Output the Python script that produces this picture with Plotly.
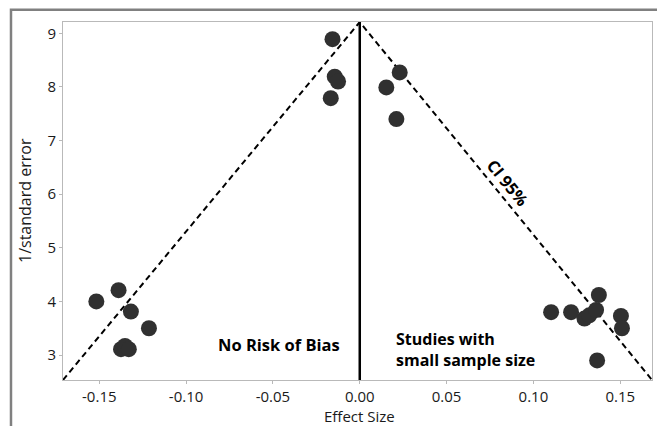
import plotly.graph_objects as go

# Studies (effect size vs 1/standard error)
effect_low = [-0.1517, -0.1389, -0.1318, -0.1214, -0.1375, -0.1352, -0.1330]
inv_se_low = [4.00, 4.21, 3.81, 3.50, 3.11, 3.17, 3.11]

effect_top = [-0.0157, -0.0144, -0.0125, -0.0167, 0.0230, 0.0153, 0.0211]
inv_se_top = [8.89, 8.19, 8.10, 7.79, 8.27, 7.99, 7.40]

effect_high = [0.1102, 0.1217, 0.1294, 0.1322, 0.1361, 0.1377, 0.1504, 0.1510, 0.1367]
inv_se_high = [3.80, 3.80, 3.68, 3.74, 3.84, 4.12, 3.73, 3.50, 2.90]

x_range = [-0.1709, 0.1683]
y_range = [2.535, 9.21]

# 95% CI funnel (apex at pooled effect 0.00)
ci_x = [x_range[0], 0.0, x_range[1]]
ci_y = [y_range[0], y_range[1], y_range[0]]

x_ticks = [-0.15, -0.10, -0.05, 0.00, 0.05, 0.10, 0.15]
x_tick_labels = ["-0.15", "-0.10", "-0.05", "0.00", "0.05", "0.10", "0.15"]
y_ticks = [3, 4, 5, 6, 7, 8, 9]

FONT = "Open Sans"
TXT = "#1a1a1a"

fig = go.Figure()

fig.add_trace(go.Scatter(x=ci_x, y=ci_y, mode="lines",
                         line=dict(color="black", width=2, dash="6px,4px"),
                         hoverinfo="skip", showlegend=False))
fig.add_trace(go.Scatter(x=[0.0, 0.0], y=y_range, mode="lines",
                         line=dict(color="black", width=2.5),
                         hoverinfo="skip", showlegend=False))

all_x = effect_low + effect_top + effect_high
all_y = inv_se_low + inv_se_top + inv_se_high
fig.add_trace(go.Scatter(x=all_x, y=all_y, mode="markers",
                         marker=dict(size=16, color="#303030", line=dict(width=0)),
                         showlegend=False))

axis_common = dict(showline=True, mirror=True, linecolor="#b9b9b9", linewidth=1,
                   ticks="outside", ticklen=3, tickcolor="#b9b9b9",
                   showgrid=False, zeroline=False,
                   tickfont=dict(family=FONT, size=15, color=TXT))

fig.update_layout(
    width=657, height=426,
    margin=dict(l=63, r=5, t=22, b=46),
    paper_bgcolor="white", plot_bgcolor="white",
    font=dict(family=FONT, color=TXT),
    xaxis=dict(range=x_range, tickvals=x_ticks, ticktext=x_tick_labels, **axis_common),
    yaxis=dict(range=y_range, tickvals=y_ticks, **axis_common),
    shapes=[dict(type="rect", xref="paper", yref="paper",
                 x0=-0.0883, x1=1.2, y0=-0.3, y1=1.034,
                 line=dict(color="#808080", width=2.5), layer="below")],
    annotations=[
        dict(text="1/standard error", xref="paper", yref="paper", x=-0.0645, y=0.5,
             xanchor="center", yanchor="middle", textangle=-90, showarrow=False,
             font=dict(family=FONT, size=16, color=TXT)),
        dict(text="Effect Size", xref="paper", yref="paper", x=0.504, y=-0.101,
             xanchor="center", yanchor="middle", showarrow=False,
             font=dict(family=FONT, size=15, color=TXT)),
        dict(text="<b>No Risk of Bias</b>", xref="x", yref="y", x=-0.0465, y=3.205,
             xanchor="center", yanchor="middle", showarrow=False,
             font=dict(family=FONT, size=16.5, color="black")),
        dict(text="<b>Studies with<br>small sample size</b>", xref="x", yref="y",
             x=0.0197, y=3.11, xanchor="left", yanchor="middle", align="left",
             showarrow=False, font=dict(family=FONT, size=16, color="black")),
        dict(text="<b>CI 95%</b>", xref="x", yref="y", x=0.0853, y=6.22,
             xanchor="center", yanchor="middle", textangle=51, showarrow=False,
             font=dict(family=FONT, size=16.5, color="black")),
    ],
)

fig.write_html("out.html", config={"displayModeBar": False},
               post_script="document.body.style.margin='0px';")
